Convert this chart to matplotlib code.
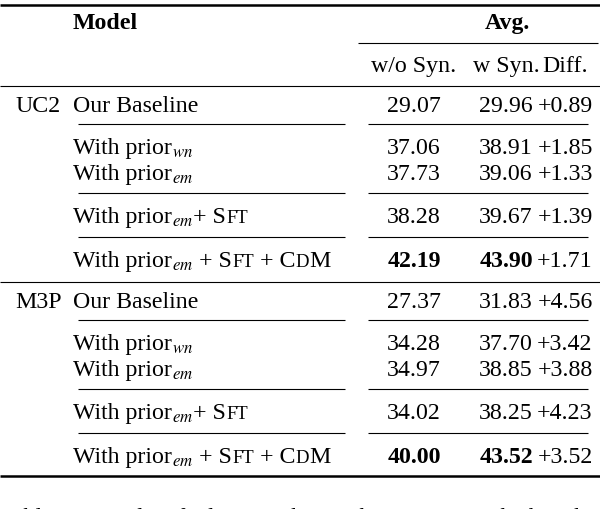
import matplotlib.pyplot as plt

plt.rcParams['font.family'] = ['Liberation Serif', 'DejaVu Serif']
plt.rcParams['mathtext.fontset'] = 'stix'

groups = ["UC2", "M3P"]
models = ["base", "wn", "em", "sft", "cdm"]
wo_syn = [[29.07, 37.06, 37.73, 38.28, 42.19], [27.37, 34.28, 34.97, 34.02, 40.00]]
w_syn = [[29.96, 38.91, 39.06, 39.67, 43.90], [31.83, 37.70, 38.85, 38.25, 43.52]]
diff = [["+0.89", "+1.85", "+1.33", "+1.39", "+1.71"], ["+4.56", "+3.42", "+3.88", "+4.23", "+3.52"]]
bold_row = "cdm"

W, H = 600, 510
fig = plt.figure(figsize=(6, 5.1), dpi=100)
ax = fig.add_axes([0, 0, 1, 1])
ax.set_xlim(0, W)
ax.set_ylim(H, 0)
ax.axis('off')
fig.canvas.draw()
r = fig.canvas.get_renderer()
FS = 17.2

def pieces(x, y, parts):
    # parts: list of (text, size)
    for s, sz in parts:
        t = ax.text(x, y, s, fontsize=sz, va='baseline', ha='left')
        bb = t.get_window_extent(renderer=r)
        x += bb.width

def label(x, y, key):
    prior = [("With prior", FS)]
    if key == "base":
        pieces(x, y, [("Our Baseline", FS)])
    elif key == "wn":
        pieces(x, y, prior + [(r"$_{wn}$", FS)])
    elif key == "em":
        pieces(x, y, prior + [(r"$_{em}$", FS)])
    elif key == "sft":
        pieces(x, y, prior + [(r"$_{em}$", FS), ("+ S", FS), ("FT", FS * 0.78)])
    else:
        pieces(x, y, prior + [(r"$_{em}$", FS), (" + S", FS), ("FT", FS * 0.78),
                              (" + C", FS), ("D", FS * 0.78), ("M", FS)])

def hline(y, x0=0, x1=600, lw=0.8):
    ax.plot([x0, x1], [y, y], color='black', lw=lw, solid_capstyle='butt')

hline(6, 0, 600, 1.8)
ax.text(73, 29, "Model", fontsize=FS, weight='bold', va='baseline')
ax.text(507, 29, "Avg.", fontsize=FS, weight='bold', va='baseline', ha='center')
hline(44, 358, 598)
cols = [414, 506, 565]
for cx, s in zip(cols, ["w/o Syn.", "w Syn.", "Diff."]):
    ax.text(cx, 72, s, fontsize=FS, va='baseline', ha='center')
hline(87, 0, 600)

row_y = [112, 154, 180, 223, 267]
for g in range(2):
    off = g * 196
    ax.text(15, row_y[0] + off, groups[g], fontsize=FS, va='baseline')
    for i, m in enumerate(models):
        y = row_y[i] + off
        label(73, y, m)
        wt = 'bold' if m == bold_row else 'normal'
        ax.text(cols[0], y, f"{wo_syn[g][i]:.2f}", fontsize=FS, va='baseline', ha='center', weight=wt)
        ax.text(cols[1], y, f"{w_syn[g][i]:.2f}", fontsize=FS, va='baseline', ha='center', weight=wt)
        ax.text(cols[2], y, diff[g][i], fontsize=FS, va='baseline', ha='center')
    for yy in (125, 194, 238):
        hline(yy + off, 78, 345)
        hline(yy + off, 368, 588)
hline(283, 0, 600)
hline(477, 0, 600, 1.8)
ax.text(0, 524, "Table 2:  Results of adjusting the synthetic prior on the benchmarks",
        fontsize=FS, va='baseline')

fig.savefig("out.png", dpi=100)
